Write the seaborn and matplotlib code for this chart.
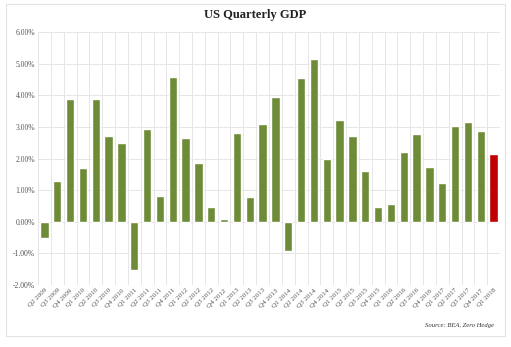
import matplotlib
matplotlib.use("Agg")
import matplotlib.pyplot as plt
import seaborn as sns
import pandas as pd
from matplotlib.patches import Rectangle
from matplotlib.ticker import FuncFormatter, MultipleLocator

quarters = ["Q2 2009", "Q3 2009", "Q4 2009",
            "Q1 2010", "Q2 2010", "Q3 2010", "Q4 2010",
            "Q1 2011", "Q2 2011", "Q3 2011", "Q4 2011",
            "Q1 2012", "Q2 2012", "Q3 2012", "Q4 2012",
            "Q1 2013", "Q2 2013", "Q3 2013", "Q4 2013",
            "Q1 2014", "Q2 2014", "Q3 2014", "Q4 2014",
            "Q1 2015", "Q2 2015", "Q3 2015", "Q4 2015",
            "Q1 2016", "Q2 2016", "Q3 2016", "Q4 2016",
            "Q1 2017", "Q2 2017", "Q3 2017", "Q4 2017",
            "Q1 2018"]
gdp = [-0.52, 1.28, 3.89,
       1.69, 3.89, 2.70, 2.49,
       -1.54, 2.93, 0.83, 4.58,
       2.66, 1.86, 0.48, 0.09,
       2.82, 0.77, 3.09, 3.93,
       -0.91, 4.56, 5.16, 2.00,
       3.21, 2.72, 1.62, 0.48,
       0.56, 2.22, 2.77, 1.73,
       1.22, 3.03, 3.14, 2.86,
       2.15]

green = "#6E8C38"
red = "#C00000"
colors = [green] * (len(quarters) - 1) + [red]

df = pd.DataFrame({"quarter": quarters, "gdp": gdp})

sns.set_style("white")
plt.rcParams["font.family"] = ["Liberation Serif", "DejaVu Serif"]

fig = plt.figure(figsize=(5.11, 3.47), dpi=100)
fig.patch.set_facecolor("white")
fig.add_artist(Rectangle((6 / 511, 1 - 336 / 347), 499 / 511, 332 / 347,
                         transform=fig.transFigure, fill=False,
                         edgecolor="#e3e3e3", linewidth=0.8))

ax = fig.add_axes([38 / 511, 1 - 285 / 347, 462 / 511, 253 / 347])
sns.barplot(data=df, x="quarter", y="gdp", hue="quarter", palette=colors,
            legend=False, width=0.64, saturation=1, ax=ax, zorder=3)

ax.set_ylim(-2, 6)
ax.set_xlim(-0.5, len(quarters) - 0.5)
ax.yaxis.set_major_locator(MultipleLocator(1))
ax.yaxis.set_major_formatter(FuncFormatter(lambda v, p: f"{v:.2f}%"))
ax.grid(axis="y", color="#e6e6e6", linewidth=0.7, zorder=0)
for i in range(len(quarters) + 1):
    ax.axvline(i - 0.5, color="#e6e6e6", linewidth=0.7, zorder=0)
for s in ax.spines.values():
    s.set_visible(False)

ax.set_xlabel("")
ax.set_ylabel("")
ax.tick_params(axis="both", length=0, pad=2, labelcolor="#555555")
ax.tick_params(axis="y", labelsize=5.5)
ax.tick_params(axis="x", labelsize=5)
ax.set_xticks(range(len(quarters)))
ax.set_xticklabels(quarters, rotation=45, ha="right", rotation_mode="anchor")

fig.text(0.5, 1 - 15 / 347, "US Quarterly GDP", ha="center", va="center",
         fontsize=9, fontweight="bold", color="#222222")
fig.text(494 / 511, 1 - 325 / 347, "Source: BEA, Zero Hedge", ha="right",
         va="center", fontsize=4.8, style="italic", color="#333333")

fig.savefig("out.png", dpi=100)
